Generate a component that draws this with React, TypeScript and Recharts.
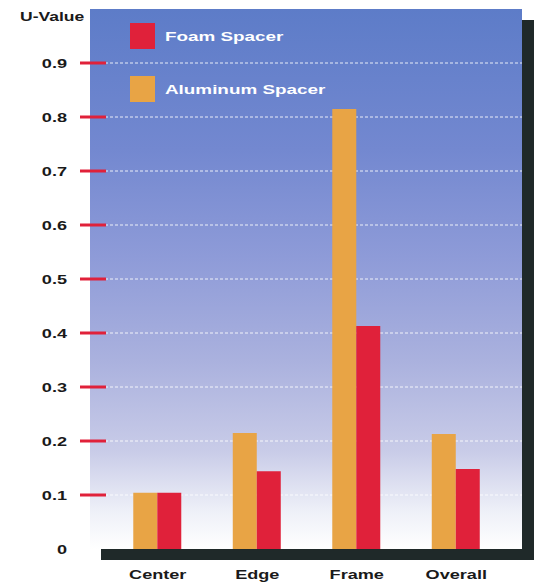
import React from 'react';
import { BarChart, Bar, XAxis, YAxis, CartesianGrid, Legend } from 'recharts';

const categories = ['Center', 'Edge', 'Frame', 'Overall'];
const aluminumValues = [0.104, 0.215, 0.815, 0.213];
const foamValues = [0.104, 0.144, 0.413, 0.148];
const yTicks = [0, 0.1, 0.2, 0.3, 0.4, 0.5, 0.6, 0.7, 0.8, 0.9];
const gridValues = [0.1, 0.2, 0.3, 0.4, 0.5, 0.6, 0.7, 0.8, 0.9];
const seriesNames = { foam: 'Foam Spacer', aluminum: 'Aluminum Spacer' };

const data = categories.map((c, i) => ({
  name: c,
  aluminum: aluminumValues[i],
  foam: foamValues[i],
}));

const FONT = '"Liberation Sans", Arial, sans-serif';
const RED = '#e0213a';
const ORANGE = '#e8a445';
const SHADOW = '#1f2929';

const YTick = (props: any) => {
  const { x, y, payload } = props;
  const v = payload.value;
  return (
    <g>
      {v !== 0 && (
        <line x1={x - 10} x2={x + 16} y1={y} y2={y} stroke={RED} strokeWidth={3} />
      )}
      <text
        transform={`translate(${x - 23},${y + 4.5}) scale(1.45,1)`}
        textAnchor="end"
        fontFamily={FONT}
        fontWeight="bold"
        fontSize={12.5}
        fill="#1a1a1a"
      >
        {v === 0 ? '0' : v.toFixed(1)}
      </text>
    </g>
  );
};

const XTick = (props: any) => {
  const { x, y, payload } = props;
  return (
    <text
      transform={`translate(${x},${y + 30}) scale(1.45,1)`}
      textAnchor="middle"
      fontFamily={FONT}
      fontWeight="bold"
      fontSize={12.5}
      fill="#1a1a1a"
    >
      {payload.value}
    </text>
  );
};

const LegendContent = () => {
  const row = (color: string, label: string, mt: number) => (
    <div style={{ display: 'flex', alignItems: 'center', marginTop: mt, height: 26 }}>
      <div style={{ width: 25, height: 26, background: color }} />
      <div
        style={{
          marginLeft: 10,
          color: '#fff',
          fontFamily: FONT,
          fontWeight: 'bold',
          fontSize: 13,
          transform: 'scaleX(1.45)',
          transformOrigin: 'left center',
          whiteSpace: 'nowrap',
        }}
      >
        {label}
      </div>
    </div>
  );
  return (
    <div>
      {row(RED, seriesNames.foam, 0)}
      {row(ORANGE, seriesNames.aluminum, 27)}
    </div>
  );
};

export default function App() {
  return (
    <div style={{ position: 'absolute', left: 0, top: 0, width: 541, height: 584, background: '#fff' }}>
      <div style={{ position: 'absolute', left: 522, top: 20, width: 12, height: 540, background: SHADOW }} />
      <div style={{ position: 'absolute', left: 101, top: 549, width: 433, height: 11, background: SHADOW }} />
      <div
        style={{
          position: 'absolute',
          left: 20,
          top: 10,
          fontFamily: FONT,
          fontWeight: 'bold',
          fontSize: 12.5,
          color: '#1a1a1a',
          transform: 'scaleX(1.4)',
          transformOrigin: 'left center',
          whiteSpace: 'nowrap',
        }}
      >
        U-Value
      </div>
      <div style={{ position: 'absolute', left: 0, top: 0 }}>
        <BarChart
          width={541}
          height={584}
          data={data}
          margin={{ top: 9, right: 19, left: 0, bottom: 0 }}
          barCategoryGap="25.4%"
          barGap={0}
        >
          <defs>
            <linearGradient id="bgGrad" x1="0" y1="0" x2="0" y2="1">
              <stop offset="0" stopColor="#5d7cc8" />
              <stop offset="0.26" stopColor="#7388d0" />
              <stop offset="0.46" stopColor="#8e9bd8" />
              <stop offset="0.65" stopColor="#aab1de" />
              <stop offset="0.82" stopColor="#c9cce8" />
              <stop offset="0.93" stopColor="#eef0f8" />
              <stop offset="1" stopColor="#ffffff" />
            </linearGradient>
          </defs>
          <CartesianGrid
            vertical={false}
            horizontalValues={gridValues}
            fill="url(#bgGrad)"
            fillOpacity={1}
            stroke="#ffffff"
            strokeOpacity={0.85}
            strokeDasharray="3 2"
          />
          <XAxis
            dataKey="name"
            height={35}
            axisLine={false}
            tickLine={false}
            tickSize={0}
            tickMargin={0}
            padding={{ left: 18, right: 16 }}
            tick={<XTick />}
            interval={0}
          />
          <YAxis
            width={90}
            domain={[0, 1]}
            ticks={yTicks}
            axisLine={false}
            tickLine={false}
            tickSize={0}
            tickMargin={0}
            tick={<YTick />}
            interval={0}
          />
          <Legend
            layout="horizontal"
            verticalAlign="middle"
            align="center"
            wrapperStyle={{ top: 23, left: 130, width: 'auto' }}
            content={<LegendContent />}
          />
          <Bar dataKey="aluminum" name={seriesNames.aluminum} fill={ORANGE} isAnimationActive={false} />
          <Bar dataKey="foam" name={seriesNames.foam} fill={RED} isAnimationActive={false} />
        </BarChart>
      </div>
    </div>
  );
}
